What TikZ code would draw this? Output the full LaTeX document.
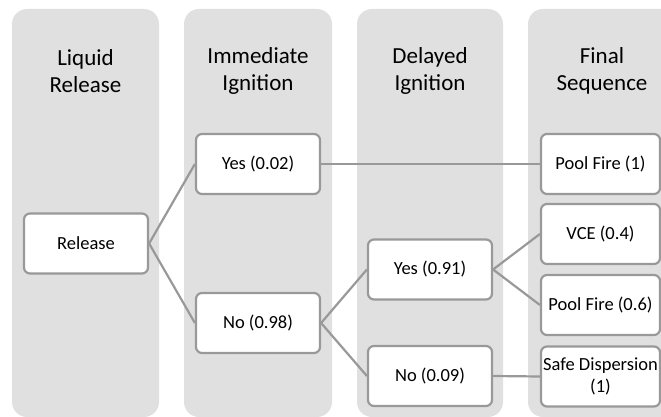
\documentclass[tikz,border=0pt]{standalone}
\usepackage{fontspec}
\setmainfont{Carlito}
\usepackage{xcolor}
\usepackage{tikz}

\begin{document}
\begin{tikzpicture}[x=1pt,y=1pt,
  stagecol/.style={fill=colfill,rounded corners=15pt},
  stagehead/.style={align=center,font=\fontsize{23}{27}\selectfont},
  eventbox/.style={draw=edgegray,line width=2.2pt,fill=white,rounded corners=6pt,
    minimum width=124pt,minimum height=60pt,inner sep=0pt,align=center,
    font=\fontsize{18.5}{22}\selectfont},
  endbox/.style={eventbox,minimum width=119pt},
  branch/.style={draw=edgegray,line width=2.2pt}]
% Define colors
\definecolor{colfill}{RGB}{224,224,224}
\definecolor{edgegray}{RGB}{153,153,153}

\useasboundingbox (0,0) rectangle (661,417);
\clip (0,0) rectangle (661,417);

% Stage columns
\fill[stagecol] (12,0) rectangle (159,408);
\fill[stagecol] (184,0) rectangle (332,408);
\fill[stagecol] (357,0) rectangle (503,408);
\fill[stagecol] (528,0) rectangle (680,408);

% Column headings
\node[stagehead] (hrel) at (85.5,346) {Liquid\\Release};
\node[stagehead] (himm) at (258,346) {Immediate\\Ignition};
\node[stagehead] (hdel) at (430,346) {Delayed\\Ignition};
\node[stagehead] (hfin) at (602,346) {Final\\Sequence};

% Event boxes
\node[eventbox] (release) at (86,173.5) {Release};
\node[eventbox] (immyes) at (258,253) {Yes (0.02)};
\node[eventbox] (immno) at (258,94) {No (0.98)};
\node[eventbox] (delyes) at (430,147.5) {Yes (0.91)};
\node[eventbox] (delno) at (430,41) {No (0.09)};

% Outcomes
\node[endbox] (poolfire) at (600.5,253) {Pool Fire (1)};
\node[endbox] (vce) at (600.5,183) {VCE (0.4)};
\node[endbox] (poolfiretwo) at (600.5,112) {Pool Fire (0.6)};
\node[endbox] (safedisp) at (600.5,40.5) {Safe Dispersion\\(1)};

% Branches
\draw[branch] (release.east) -- (immyes.west);
\draw[branch] (release.east) -- (immno.west);
\draw[branch] (immyes.east) -- (poolfire.west);
\draw[branch] (immno.east) -- (delyes.west);
\draw[branch] (immno.east) -- (delno.west);
\draw[branch] (delyes.east) -- (vce.west);
\draw[branch] (delyes.east) -- (poolfiretwo.west);
\draw[branch] (delno.east) -- (safedisp.west);

\end{tikzpicture}
\end{document}
